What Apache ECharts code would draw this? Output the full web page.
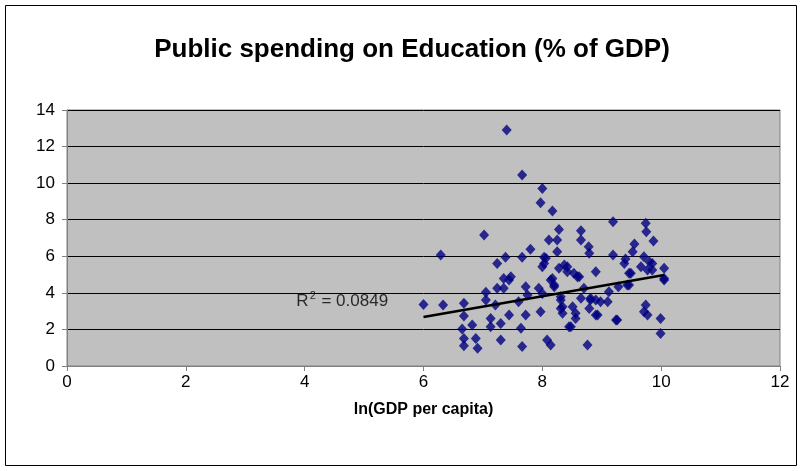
<!DOCTYPE html>
<html>
<head>
<meta charset="utf-8">
<script src="https://cdn.jsdelivr.net/npm/echarts@6/dist/echarts.min.js"></script>
<style>
html,body{margin:0;padding:0;background:#fff;}
#c{width:803px;height:471px;}
</style>
</head>
<body>
<div id="c"></div>
<script>
var titleText = 'Public spending on Education (% of GDP)';
var xAxisName = 'ln(GDP per capita)';
var xTicks = [0, 2, 4, 6, 8, 10, 12];
var yTicks = [0, 2, 4, 6, 8, 10, 12, 14];
var lnGdp = [
7.40,7.66,8.00,7.97,8.17,8.28,8.11,8.25,8.65,8.65,8.25,7.80,8.78,7.38,7.24,7.66,8.03,7.02,6.29,
9.19,9.74,9.75,9.87,9.55,9.52,8.79,9.19,9.71,9.40,
6.00,6.33,6.68,6.68,6.65,6.82,6.68,6.88,6.68,6.91,7.05,7.05,7.13,7.13,7.30,7.30,7.24,7.35,7.21,
7.47,7.44,8.00,8.37,8.42,8.62,8.17,8.20,7.35,7.72,7.94,7.75,8.31,8.34,8.51,8.56,8.34,7.97,7.44,
7.72,7.60,7.64,8.45,8.08,8.14,7.66,8.76,8.70,8.65,8.28,8.90,9.38,9.46,9.66,9.80,9.85,10.05,10.05,
9.12,8.81,8.98,9.10,8.90,9.26,9.74,9.71,9.77,9.99,9.99,9.46,9.28,8.79,
8.42,8.53,8.59,8.14,8.20,8.06,8.03,8.81,8.90,9.43,8.93,8.31,8.56,8.48,9.24,9.49,9.85,9.77,10.05,8.00,8.31
];
var eduSpend = [
12.90,10.44,9.71,8.93,8.47,7.47,6.89,6.89,7.40,6.89,6.25,6.38,6.52,5.95,5.61,5.95,5.95,7.16,6.07,
7.89,7.80,7.34,6.83,6.67,6.25,6.16,6.07,5.98,5.85,
3.37,3.33,3.43,2.73,2.02,2.24,1.51,1.51,1.11,0.97,4.03,3.61,2.60,2.15,2.33,1.42,4.25,4.79,3.33,
4.88,4.70,5.43,5.52,5.16,4.88,4.79,4.34,4.25,4.34,4.25,3.88,3.79,3.24,3.24,2.88,2.88,2.97,2.79,
2.79,3.52,2.06,2.15,1.42,1.15,1.06,1.15,4.25,3.70,5.34,5.16,5.61,5.07,5.43,5.70,5.25,5.34,4.79,
4.06,3.70,3.52,3.52,2.79,2.52,3.33,2.97,2.79,2.60,1.78,4.43,4.34,3.15,
5.43,5.07,4.88,4.70,4.43,5.89,5.61,3.61,3.61,4.43,2.79,3.61,2.60,2.15,2.52,5.07,5.61,5.25,4.70,3.97,3.15
];
var trendX = [6.0, 10.05];
var trendY = [2.68, 4.98];
var r2Pos = [3.86, 3.6];

var pts = lnGdp.map(function(x, i){ return [x, eduSpend[i]]; });
var trend = trendX.map(function(x, i){ return [x, trendY[i]]; });

var chart = echarts.init(document.getElementById('c'), null, {renderer:'canvas'});
var font = '"Liberation Sans", Arial, sans-serif';
chart.setOption({
  animation: false,
  backgroundColor: '#ffffff',
  textStyle: {fontFamily: font},
  title: {
    text: titleText, left: 407, textAlign: 'center', top: 32,
    textStyle: {fontFamily: font, fontSize: 26, fontWeight: 'bold', color: '#000'}
  },
  graphic: [{
    type: 'rect', shape: {x: 5.5, y: 5.5, width: 791, height: 460},
    style: {fill: 'none', stroke: '#000', lineWidth: 1}, silent: true, z: -1
  }],
  grid: {
    left: 67, right: 23, top: 110, bottom: 105,
    show: true, backgroundColor: '#C0C0C0', borderColor: '#808080', borderWidth: 1
  },
  xAxis: {
    type: 'value', min: 0, max: 12, interval: 2,
    name: xAxisName, nameLocation: 'middle', nameGap: 36,
    nameTextStyle: {fontFamily: font, fontSize: 16, fontWeight: 'bold', color: '#000'},
    axisLine: {show: true, lineStyle: {color: '#808080', width: 1}},
    axisTick: {show: true, length: 5, inside: false, lineStyle: {color: '#808080'}},
    axisLabel: {fontFamily: font, fontSize: 17, color: '#000', margin: 8,
      formatter: function(v){ return xTicks.indexOf(v) >= 0 ? String(v) : ''; }},
    splitLine: {show: false}
  },
  yAxis: {
    type: 'value', min: 0, max: 14, interval: 2,
    axisLine: {show: true, lineStyle: {color: '#808080', width: 1}},
    axisTick: {show: true, length: 5, inside: false, lineStyle: {color: '#808080'}},
    axisLabel: {fontFamily: font, fontSize: 17, color: '#000', margin: 12,
      formatter: function(v){ return yTicks.indexOf(v) >= 0 ? String(v) : ''; }},
    splitLine: {show: true, lineStyle: {color: '#000', width: 1}}
  },
  series: [
    {
      type: 'scatter', data: pts, symbol: 'diamond', symbolSize: [10, 11],
      itemStyle: {color: '#000080'}, z: 3
    },
    {
      type: 'line', data: trend, symbol: 'none',
      lineStyle: {color: '#000', width: 2.5}, z: 4
    },
    {
      type: 'scatter', data: [r2Pos], symbolSize: 0, z: 5,
      label: {
        show: true, position: 'right', distance: 0,
        formatter: function(){ return '{b|R}{s|2}{b| = 0.0849}'; },
        rich: {
          b: {fontFamily: font, fontSize: 17, color: '#000', lineHeight: 20, verticalAlign: 'bottom'},
          s: {fontFamily: font, fontSize: 11, color: '#000', lineHeight: 20, verticalAlign: 'top', padding:[0,1,8,1]}
        }
      }
    }
  ]
});
</script>
</body>
</html>
